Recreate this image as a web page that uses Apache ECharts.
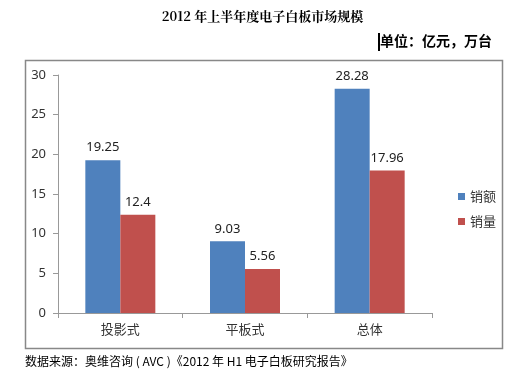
<!DOCTYPE html>
<html><head><meta charset="utf-8">
<script src="https://cdn.jsdelivr.net/npm/echarts@6/dist/echarts.min.js"></script>
<style>html,body{margin:0;padding:0;background:#fff}#c{width:525px;height:386px}</style>
</head><body><div id="c"></div>
<script>
const categories = ['投影式', '平板式', '总体'];
const salesValue = [19.25, 9.03, 28.28];
const salesVolume = [12.4, 5.56, 17.96];
const seriesNames = ['销额', '销量'];
const yTicks = [0, 5, 10, 15, 20, 25, 30];

const chart = echarts.init(document.getElementById('c'));
const lbl = {show: true, position: 'top', color: '#222', fontSize: 13, fontFamily: 'Noto Sans, sans-serif', distance: 6};
chart.setOption({
  animation: false,
  backgroundColor: '#fff',
  title: {
    text: '2012 年上半年度电子白板市场规模', left: 'center', top: 5,
    textStyle: {fontSize: 13, fontWeight: 'bold', color: '#000', fontFamily: '"Noto Serif CJK SC", "Noto Sans CJK SC", serif'}
  },
  graphic: [
    {type: 'rect', shape: {x: 25.5, y: 60.5, width: 477, height: 288}, style: {fill: 'none', stroke: '#888', lineWidth: 1.5}, z: -1},
    {type: 'text', left: 380, top: 34, style: {text: '单位：亿元，万台', fontSize: 14, fontWeight: 'bold', fill: '#000', fontFamily: '"Noto Sans CJK SC", sans-serif'}},
    {type: 'rect', shape: {x: 378, y: 33, width: 2, height: 18}, style: {fill: '#000'}},
    {type: 'text', left: 25, top: 355, style: {text: '数据来源：奥维咨询 ( AVC )《2012 年 H1 电子白板研究报告》', fontSize: 12, fill: '#000', fontFamily: '"Noto Sans CJK SC", sans-serif'}}
  ],
  legend: {
    orient: 'vertical', left: 453, top: 185, itemWidth: 7, itemHeight: 7, itemGap: 12,
    data: seriesNames, icon: 'rect',
    textStyle: {fontSize: 13, color: '#333', fontFamily: '"Noto Sans CJK SC", sans-serif'}
  },
  grid: {left: 58, right: 93, top: 75, bottom: 73},
  xAxis: {
    type: 'category', data: categories,
    axisLine: {lineStyle: {color: '#999'}},
    axisTick: {show: true, length: 5, lineStyle: {color: '#999'}},
    axisLabel: {fontSize: 13, color: '#333', margin: 10, fontFamily: '"Noto Sans CJK SC", sans-serif'}
  },
  yAxis: {
    type: 'value', min: 0, max: 30, interval: 5,
    axisLine: {show: true, lineStyle: {color: '#999'}},
    axisTick: {show: true, length: 5, lineStyle: {color: '#999'}},
    splitLine: {show: false},
    axisLabel: {fontSize: 13, color: '#333', margin: 12, fontFamily: 'Noto Sans, sans-serif',
      formatter: v => yTicks.includes(v) ? String(v) : ''}
  },
  series: [
    {name: seriesNames[0], type: 'bar', data: salesValue, barWidth: 35, barGap: '0%', itemStyle: {color: '#4F81BD'}, label: lbl},
    {name: seriesNames[1], type: 'bar', data: salesVolume, barWidth: 35, barGap: '0%', itemStyle: {color: '#C0504D'}, label: lbl}
  ]
});
</script></body></html>
